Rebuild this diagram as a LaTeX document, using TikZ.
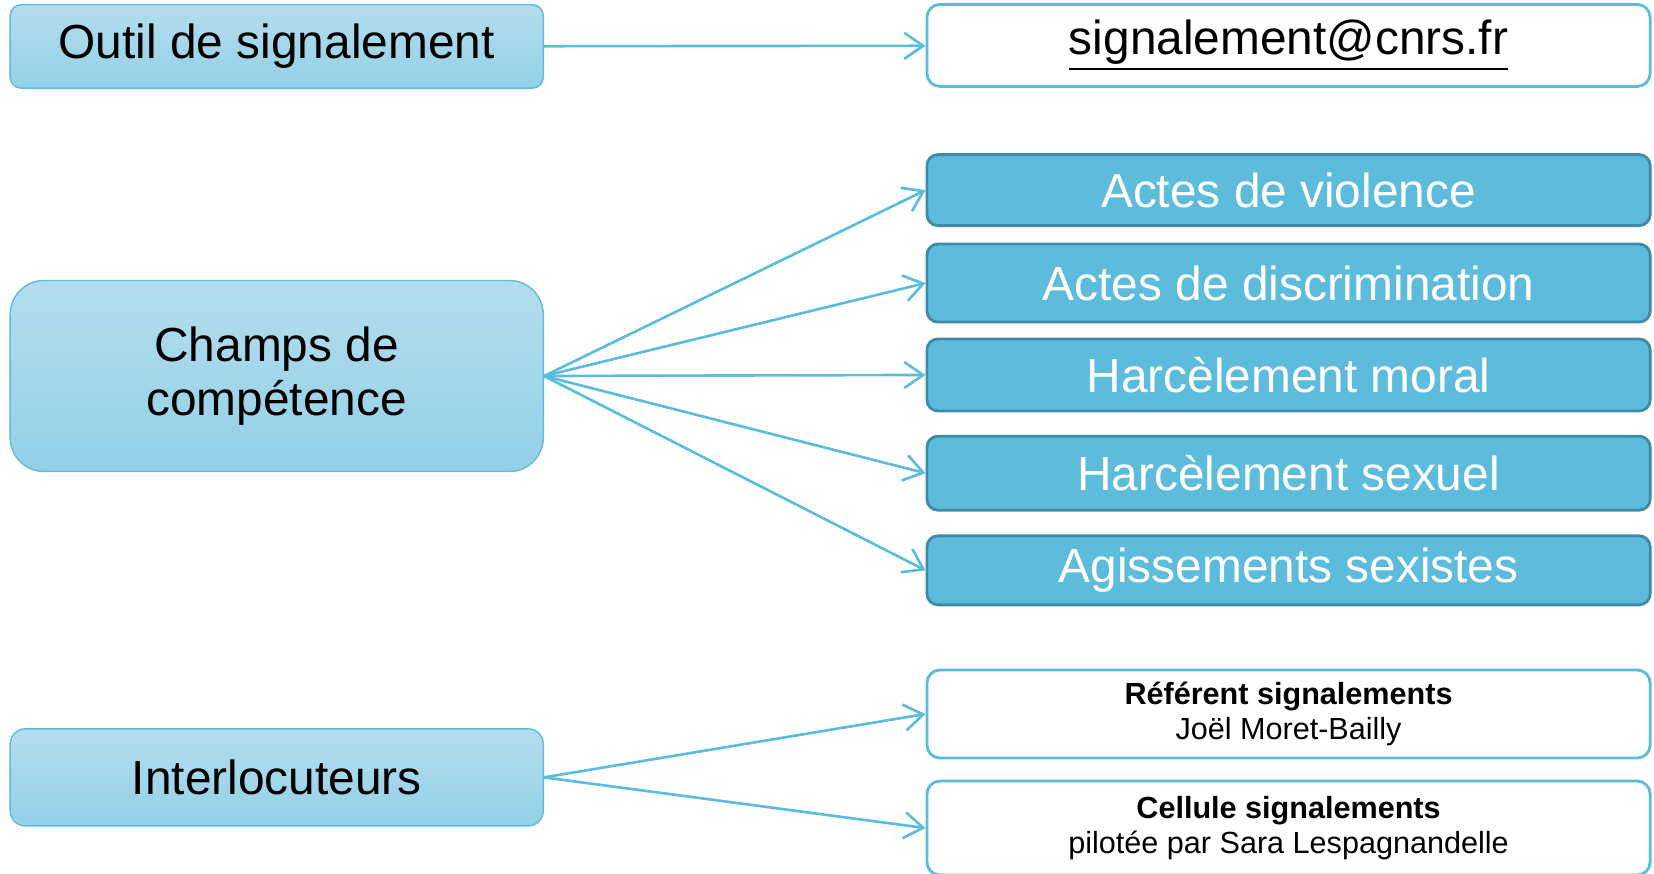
\documentclass[tikz,border=0pt]{standalone}
\usepackage{fontspec}
\setmainfont{Liberation Sans}
\usepackage{xcolor}
\usetikzlibrary{arrows.meta}
\definecolor{lineblue}{HTML}{5BBCDC}
\definecolor{topblue}{HTML}{B4DDED}
\definecolor{botblue}{HTML}{93D0E7}
\definecolor{darkfill}{HTML}{5DBCDB}
\definecolor{darkedge}{HTML}{3F8BA5}

\begin{document}
\begin{tikzpicture}[x=0.010562cm, y=-0.010562cm,
    leftbox/.style={draw=lineblue, line width=0.4pt, top color=topblue, bottom color=botblue,
      minimum width=5.33cm, align=center, font=\fontsize{13.6}{15.4}\selectfont},
    whitebox/.style={draw=lineblue, line width=0.8pt, fill=white, rounded corners=0.13cm,
      minimum width=7.23cm, align=center},
    themebox/.style={draw=darkedge, line width=0.8pt, fill=darkfill, rounded corners=0.11cm,
      minimum width=7.23cm, text=white, font=\fontsize{13.6}{16}\selectfont},
    smalltext/.style={font=\fontsize{8.7}{10.2}\selectfont},
    link/.style={draw=lineblue, line width=0.75pt, -{Straight Barb[length=1.9mm, width=2.6mm]}}]
    \useasboundingbox (0,0) rectangle (1566,827);

    % left column
    \node[leftbox, minimum height=0.834cm, rounded corners=0.11cm] (outil) at (262,44) {Outil de signalement};
    \node[leftbox, minimum height=1.91cm, rounded corners=0.34cm] (champs) at (262,356) {Champs de\\comp\'etence};
    \node[leftbox, minimum height=0.97cm, rounded corners=0.15cm] (inter) at (262,736) {Interlocuteurs};

    % right column
    \node[whitebox, minimum height=0.82cm, font=\fontsize{13.6}{16}\selectfont] (mail) at (1220,43)
      {\underline{signalement@cnrs.fr}};

    \node[themebox, minimum height=0.71cm] (violence) at (1220,180) {Actes de violence};
    \node[themebox, minimum height=0.78cm] (discri) at (1220,268) {Actes de discrimination};
    \node[themebox, minimum height=0.72cm] (moral) at (1220,355) {Harc\`element moral};
    \node[themebox, minimum height=0.74cm] (sexuel) at (1220,448) {Harc\`element sexuel};
    \node[themebox, minimum height=0.69cm] (sexiste) at (1220,540) {Agissements sexistes};

    \node[whitebox, smalltext, minimum height=0.76cm] (referent) at (1220,676)
      {\textbf{R\'ef\'erent signalements}\\Jo\"el Moret-Bailly};
    \node[whitebox, smalltext, minimum height=0.94cm] (cellule) at (1220,784)
      {\textbf{Cellule signalements}\\pilot\'ee par Sara Lespagnandelle};

    % connectors
    \draw[link] (outil) -- (mail);
    \foreach \t in {violence, discri, moral, sexuel, sexiste}
      \draw[link] (champs.east) -- (\t.west);
    \draw[link] (inter.east) -- (referent.west);
    \draw[link] (inter.east) -- (cellule.west);
\end{tikzpicture}
\end{document}
